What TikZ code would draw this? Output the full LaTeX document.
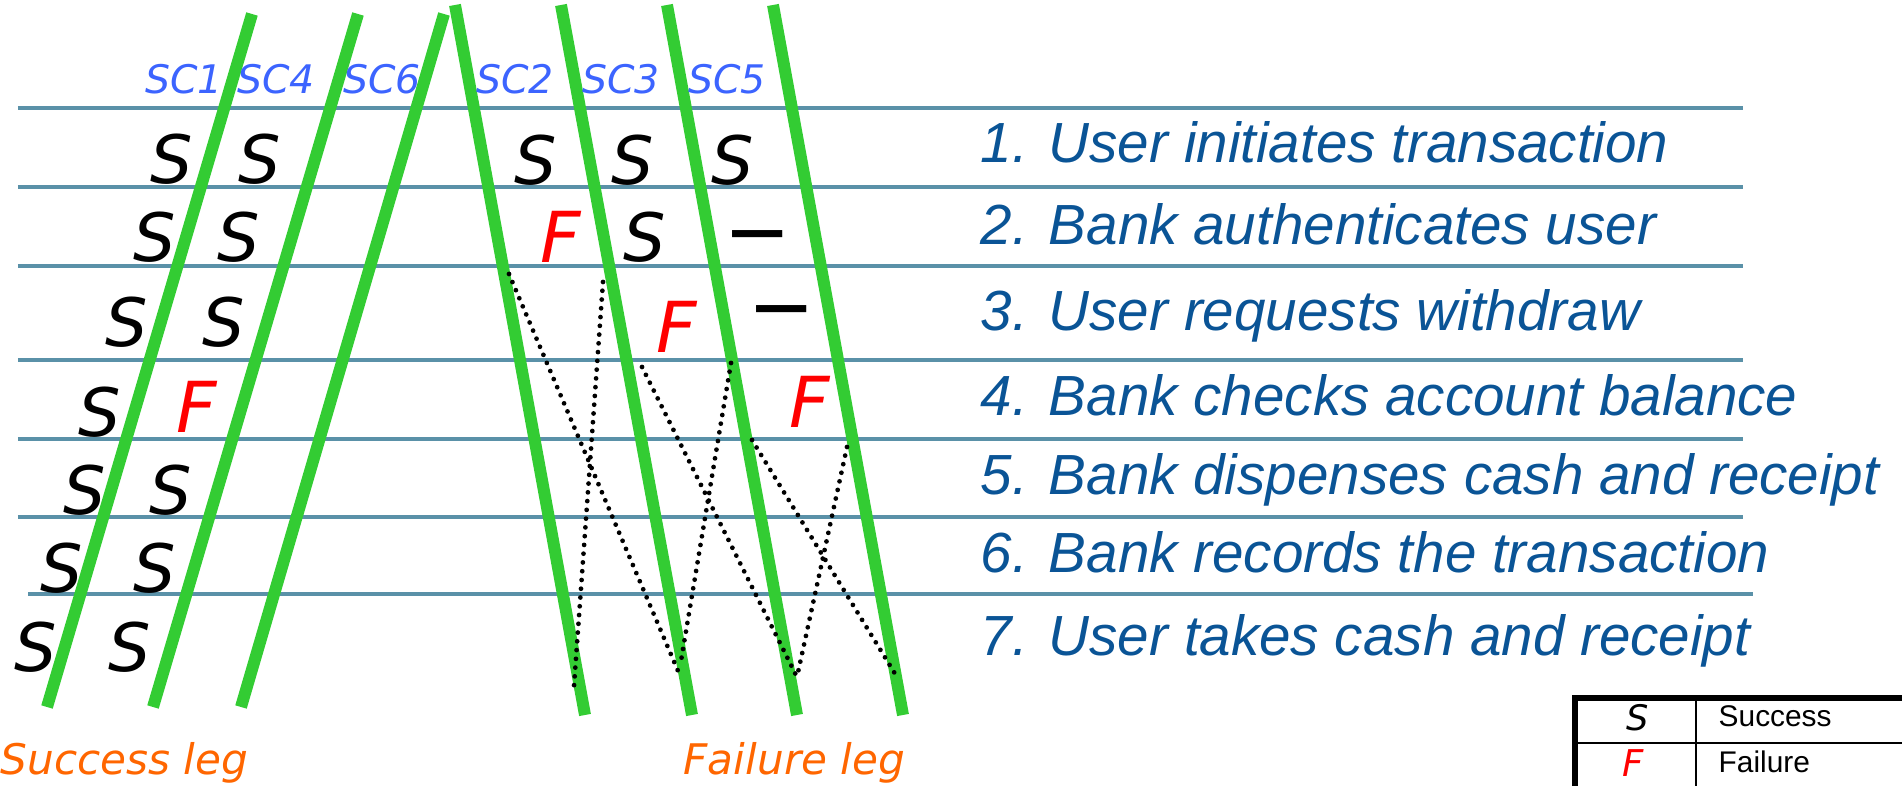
\documentclass[tikz,border=0pt]{standalone}
\usepackage{fontspec}
\setmainfont{Liberation Sans}
\newfontfamily\comicfont{DejaVu Sans}
\usepackage{tikz}
\definecolor{rowblue}{RGB}{90,145,168}
\definecolor{leggreen}{RGB}{51,204,51}
\definecolor{stepblue}{RGB}{10,84,150}
\definecolor{scblue}{RGB}{60,100,255}
\definecolor{legorange}{RGB}{255,102,0}

\begin{document}
\begin{tikzpicture}[y=-1cm,
  rowline/.style={rowblue,line width=1pt},
  leg/.style={leggreen,line width=3.4pt},
  jump/.style={line width=1.35pt,line cap=round,dash pattern=on 0pt off 2.5pt},
  sflag/.style={inner sep=0pt,font=\comicfont\itshape\fontsize{19}{19}\selectfont},
  fflag/.style={sflag,red,font=\comicfont\itshape\fontsize{20}{20}\selectfont},
  nflag/.style={inner sep=0pt,font=\comicfont\bfseries\fontsize{16}{16}\selectfont},
  sclabel/.style={inner sep=0pt,scblue,font=\comicfont\itshape\fontsize{11.2}{11.2}\selectfont},
  leglabel/.style={inner sep=0pt,anchor=base west,legorange,font=\comicfont\itshape\fontsize{12}{12}\selectfont},
  steptext/.style={inner sep=0pt,anchor=base west,stepblue,font=\itshape\fontsize{16.1}{18}\selectfont},
  keytext/.style={inner sep=0pt,anchor=base west,font=\fontsize{8.5}{10}\selectfont}]
\useasboundingbox (0,0) rectangle (19.02,7.86);
% step separators
\foreach \y in {1.08,1.87,2.66,3.60,4.39,5.17}
  \draw[rowline] (0.18,\y) -- (17.43,\y);
\draw[rowline] (0.28,5.94) -- (17.53,5.94);
% success legs
\foreach \xt/\xb in {2.52/0.47,3.58/1.53,4.44/2.41}
  \draw[leg] (\xt,0.14) -- (\xb,7.07);
% failure legs
\foreach \xt/\xb in {4.55/5.85,5.61/6.92,6.67/7.97,7.73/9.03}
  \draw[leg] (\xt,0.05) -- (\xb,7.15);
% jumps back along the failure legs
\draw[jump] (5.09,2.74) -- (6.78,6.71);
\draw[jump] (6.03,2.82) -- (5.74,6.86);
\draw[jump] (6.42,3.67) -- (7.97,6.77);
\draw[jump] (7.31,3.63) -- (6.81,6.61);
\draw[jump] (7.52,4.40) -- (8.97,6.77);
\draw[jump] (8.47,4.47) -- (7.97,6.77);
% scenario names
\foreach \n/\x in {1/1.84,4/2.76,6/3.82,2/5.15,3/6.21,5/7.27}
  \node[sclabel] (sc\n) at (\x,0.79) {SC\n};
% outcome of every step
\foreach \n/\x/\y/\s/\t in {
  s11/1.72/1.59/sflag/S, s41/2.60/1.59/sflag/S, s21/5.36/1.60/sflag/S,
  s31/6.33/1.60/sflag/S, s51/7.33/1.60/sflag/S,
  s12/1.55/2.37/sflag/S, s42/2.39/2.37/sflag/S, s22/5.61/2.37/fflag/F,
  s32/6.45/2.37/sflag/S, s52/7.58/2.40/nflag/—,
  s13/1.27/3.22/sflag/S, s43/2.24/3.22/sflag/S, s33/6.77/3.27/fflag/F,
  s53/7.82/3.15/nflag/—,
  s14/1.00/4.12/sflag/S, s44/1.97/4.07/fflag/F, s54/8.10/4.02/fflag/F,
  s15/0.85/4.90/sflag/S, s45/1.71/4.90/sflag/S,
  s16/0.62/5.68/sflag/S, s46/1.55/5.68/sflag/S,
  s17/0.36/6.47/sflag/S, s47/1.30/6.47/sflag/S}
  \node[\s] (\n) at (\x,\y) {\t};
% use case steps
\foreach \i/\y/\txt in {
  1/1.63/User initiates transaction,
  2/2.45/Bank authenticates user,
  3/3.31/User requests withdraw,
  4/4.16/Bank checks account balance,
  5/4.95/Bank dispenses cash and receipt,
  6/5.73/Bank records the transaction,
  7/6.56/User takes cash and receipt}
  \node[steptext] (step\i) at (9.80,\y) {\i. \txt};
\node[leglabel] (okleg) at (0.00,7.75) {Success leg};
\node[leglabel] (failleg) at (6.83,7.75) {Failure leg};
% key
\draw[line width=1.7pt] (15.75,7.86) -- (15.75,6.98) -- (19.02,6.98);
\draw[line width=0.7pt] (16.96,6.98) -- (16.96,7.86) (15.75,7.43) -- (19.02,7.43);
\node[sflag,font=\comicfont\itshape\fontsize{10}{10}\selectfont] (keyS) at (16.38,7.18) {S};
\node[fflag,font=\comicfont\itshape\fontsize{10.5}{10.5}\selectfont] (keyF) at (16.33,7.63) {F};
\node[keytext] (keyok) at (17.18,7.27) {Success};
\node[keytext] (keyfail) at (17.18,7.73) {Failure};
\end{tikzpicture}
\end{document}
